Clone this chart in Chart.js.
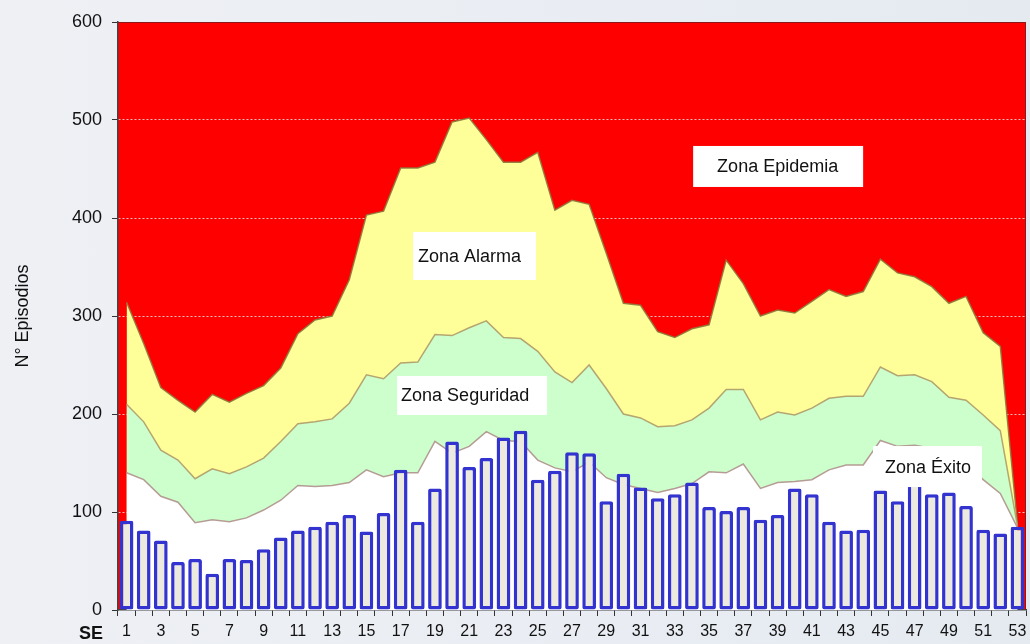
<!DOCTYPE html>
<html>
<head>
<meta charset="utf-8">
<script src="https://cdn.jsdelivr.net/npm/chart.js@4.4.1/dist/chart.umd.min.js"></script>
<style>
  html, body { margin: 0; padding: 0; }
  body {
    width: 1030px; height: 644px; overflow: hidden;
    background: linear-gradient(90deg, #eef0f4 0%, #e9edf3 60%, #e5eaf1 100%);
  }
</style>
</head>
<body>
<canvas id="endemicChart" width="1030" height="644"></canvas>
<script>
/* ===== DATA ===== */
const semanas = ["1","2","3","4","5","6","7","8","9","10","11","12","13","14","15","16","17","18","19","20",
  "21","22","23","24","25","26","27","28","29","30","31","32","33","34","35","36","37","38","39","40",
  "41","42","43","44","45","46","47","48","49","50","51","52","53"];

const episodios = [91, 81, 71, 49, 52, 37, 52, 51, 62, 74, 81, 85, 90, 97, 80, 99, 143, 90, 124, 172,
  146, 155, 176, 183, 133, 142, 161, 160, 111, 139, 125, 114, 118, 130, 105, 101, 105, 92, 97, 124,
  118, 90, 81, 82, 122, 111, 150, 118, 120, 106, 82, 78, 85];

// upper limit of the alarm zone (above it: epidemic)
const limiteAlarma = [314, 272, 227, 214, 202, 220, 212, 221, 229, 247, 282, 296, 300, 337, 403, 407, 451, 451, 457, 498,
  502, 480, 457, 457, 467, 408, 418, 414, 364, 313, 311, 284, 278, 287, 291, 357, 333, 300, 306, 303,
  315, 327, 320, 325, 358, 344, 340, 330, 313, 320, 283, 269, 88];

// upper limit of the security zone
const limiteSeguridad = [210, 192, 163, 153, 134, 144, 139, 146, 155, 172, 190, 192, 195, 211, 240, 236, 252, 253, 281, 280,
  288, 295, 278, 277, 264, 243, 232, 250, 226, 200, 196, 187, 188, 194, 206, 225, 225, 194, 202, 199,
  206, 216, 218, 218, 248, 239, 240, 233, 217, 214, 199, 183, 86];

// upper limit of the success zone
const limiteExito = [140, 133, 116, 110, 89, 92, 90, 94, 102, 112, 127, 126, 127, 130, 143, 136, 140, 140, 172, 160,
  167, 182, 173, 172, 153, 145, 141, 151, 135, 128, 124, 120, 124, 129, 141, 140, 149, 124, 130, 131,
  133, 143, 148, 148, 173, 167, 168, 165, 160, 150, 133, 119, 84];

const yTicks = [0, 100, 200, 300, 400, 500, 600];

/* ===== ZONE LABELS (x = category index, y = value at box top) ===== */
const zonas = [
  { text: "Zona Epidemia",  x: 33.07, y: 473.5, w: 170, h: 41, pad: 24 },
  { text: "Zona Alarma",    x: 16.72, y: 385.7, w: 123, h: 48, pad: 5 },
  { text: "Zona Seguridad", x: 15.79, y: 238.8, w: 150, h: 39, pad: 4 },
  { text: "Zona Éxito",     x: 43.57, y: 167.3, w: 109, h: 41, pad: 12 },
];

const FONT = "'Liberation Sans', Arial, sans-serif";

const zonePlugin = {
  id: "zones",
  beforeDraw(chart) {
    const { ctx, chartArea: a } = chart;
    ctx.save();
    ctx.fillStyle = "#ff0000";
    ctx.fillRect(a.left, a.top, a.right - a.left, a.bottom - a.top);
    ctx.restore();
  },
  afterDatasetsDraw(chart) {
    const { ctx, chartArea: a, scales: { x, y } } = chart;
    ctx.save();
    // top and right frame
    ctx.strokeStyle = "#8a1a1a";
    ctx.lineWidth = 1;
    ctx.beginPath();
    ctx.moveTo(a.left, a.top + 0.5);
    ctx.lineTo(a.right - 0.5, a.top + 0.5);
    ctx.lineTo(a.right - 0.5, a.bottom);
    ctx.stroke();

    ctx.font = "18px " + FONT;
    ctx.textBaseline = "middle";
    ctx.textAlign = "left";
    zonas.forEach(z => {
      const px = x.getPixelForValue(z.x);
      const py = y.getPixelForValue(z.y);
      ctx.fillStyle = "#ffffff";
      ctx.fillRect(px, py, z.w, z.h);
      ctx.fillStyle = "#111111";
      ctx.fillText(z.text, px + z.pad, py + z.h / 2 + 1);
    });

    ctx.font = "bold 18px " + FONT;
    ctx.fillStyle = "#111111";
    ctx.textAlign = "center";
    ctx.fillText("SE", 91, 634);
    ctx.restore();
  },
};

const ctx = document.getElementById("endemicChart");

new Chart(ctx, {
  type: "bar",
  data: {
    labels: semanas,
    datasets: [
      {
        type: "bar",
        label: "Episodios",
        data: episodios,
        backgroundColor: "#ece9df",
        borderColor: "#3333d0",
        borderWidth: 3.5,
        borderSkipped: false,
        borderRadius: 2,
        barPercentage: 0.8,
        categoryPercentage: 1,
        order: 0,
      },
      {
        type: "line",
        label: "Zona Éxito",
        data: limiteExito,
        backgroundColor: "#ffffff",
        borderColor: "rgba(175,145,140,0.9)",
        borderWidth: 1.5,
        pointRadius: 0,
        tension: 0,
        fill: "origin",
        order: 1,
      },
      {
        type: "line",
        label: "Zona Seguridad",
        data: limiteSeguridad,
        backgroundColor: "#ccffcc",
        borderColor: "rgba(175,155,105,0.9)",
        borderWidth: 1.5,
        pointRadius: 0,
        tension: 0,
        fill: "origin",
        order: 2,
      },
      {
        type: "line",
        label: "Zona Alarma",
        data: limiteAlarma,
        backgroundColor: "#ffff99",
        borderColor: "rgba(140,120,60,0.9)",
        borderWidth: 1.5,
        pointRadius: 0,
        tension: 0,
        fill: "origin",
        order: 3,
      },
    ],
  },
  options: {
    responsive: false,
    animation: false,
    layout: { padding: { top: 22, right: 4, left: 0, bottom: 0 } },
    plugins: {
      legend: { display: false },
      tooltip: { enabled: false },
    },
    scales: {
      x: {
        offset: true,
        grid: {
          offset: true,
          drawOnChartArea: false,
          tickColor: "#333333",
          tickLength: 6,
        },
        border: { color: "#444444", width: 1.5 },
        ticks: {
          autoSkip: false,
          maxRotation: 0,
          padding: 6,
          color: "#111111",
          font: { family: FONT, size: 16 },
          callback: (value, index) => (index % 2 === 0 ? semanas[index] : ""),
        },
        afterFit: (scale) => {
          scale.height = 34;
          scale.paddingLeft = 0;
          scale.paddingRight = 0;
        },
      },
      y: {
        min: 0,
        max: 600,
        afterBuildTicks: (scale) => { scale.ticks = yTicks.map(v => ({ value: v })); },
        grid: {
          color: (c) => (c.tick && (c.tick.value === 0 || c.tick.value === 600) ? "rgba(0,0,0,0)" : "rgba(255,255,255,0.75)"),
          lineWidth: 1,
          tickColor: "#333333",
          tickLength: 6,
        },
        border: { color: "#444444", width: 1.5, dash: [2, 2] },
        ticks: {
          padding: 10,
          color: "#111111",
          font: { family: FONT, size: 18 },
        },
        title: {
          display: true,
          text: "N° Episodios",
          color: "#111111",
          font: { family: FONT, size: 18 },
          padding: { top: 12, bottom: 0 },
        },
        afterFit: (scale) => { scale.width = 118; },
      },
    },
  },
  plugins: [zonePlugin],
});
</script>
</body>
</html>
